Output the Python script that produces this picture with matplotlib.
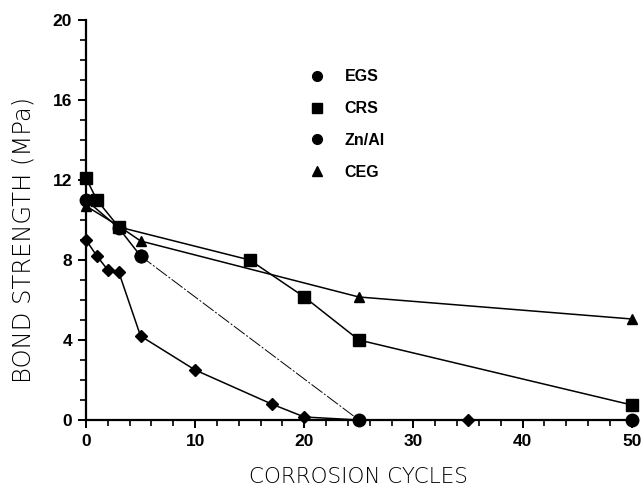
import matplotlib
matplotlib.use("Agg")
import matplotlib.pyplot as plt
from matplotlib.lines import Line2D
from matplotlib.ticker import MultipleLocator

# Data
egs_x = [0, 1, 2, 3, 5, 10, 17, 20, 25, 35, 50]
egs_y = [9.0, 8.2, 7.5, 7.4, 4.2, 2.5, 0.8, 0.15, 0.0, 0.0, 0.0]
crs_x = [0, 1, 3, 15, 20, 25, 50]
crs_y = [12.1, 11.0, 9.65, 8.0, 6.15, 4.0, 0.75]
zn_x = [0, 3, 5, 25, 50]
zn_y = [11.0, 9.6, 8.2, 0.0, 0.0]
ceg_x = [0, 3, 5, 25, 50]
ceg_y = [10.7, 9.7, 8.95, 6.15, 5.05]

series_labels = ["EGS", "CRS", "Zn/Al", "CEG"]
x_ticks = [0, 10, 20, 30, 40, 50]
y_ticks = [0, 4, 8, 12, 16, 20]

fig = plt.figure(figsize=(6.44, 4.87), dpi=100)
ax = fig.add_axes([0.1335, 0.1376, 0.8475, 0.8214])

kw = dict(color="black", lw=1.1, clip_on=False)
ax.plot(egs_x, egs_y, marker="D", ms=6, **kw)
ax.plot(crs_x, crs_y, marker="s", ms=8, **kw)
ax.plot(zn_x[:3], zn_y[:3], marker="o", ms=9, **kw)
ax.plot(zn_x[2:4], zn_y[2:4], color="black", lw=0.7, dashes=(14, 2, 2, 2))
ax.plot(zn_x[2:], zn_y[2:], marker="o", ms=9, color="black", lw=0, clip_on=False)
ax.plot(zn_x[3:], zn_y[3:], color="black", lw=1.1, clip_on=False)
ax.plot(ceg_x, ceg_y, marker="^", ms=7.5, **kw)

ax.set_xlim(0, 50)
ax.set_ylim(0, 20)
ax.set_xticks(x_ticks)
ax.set_yticks(y_ticks)
ax.xaxis.set_minor_locator(MultipleLocator(2))
ax.yaxis.set_minor_locator(MultipleLocator(1))
for s in ["top", "right"]:
    ax.spines[s].set_visible(False)
for s in ["left", "bottom"]:
    ax.spines[s].set_linewidth(1.6)
ax.tick_params(which="major", length=6, width=1.4, labelsize=12.5, pad=4)
ax.tick_params(which="minor", length=4, width=1.2)
for lab in ax.get_xticklabels() + ax.get_yticklabels():
    lab.set_fontweight("bold")
    lab.set_family("Liberation Sans")

ax.set_xlabel("CORROSION CYCLES", fontsize=15.5, family="DejaVu Sans",
              fontweight="light")
ax.xaxis.set_label_coords(0.5, -0.118)
ax.set_ylabel("BOND STRENGTH (MPa)", fontsize=17.5, family="DejaVu Sans",
              fontweight="light")
ax.yaxis.set_label_coords(-0.093, 0.45)

handles = [
    Line2D([], [], marker="o", ms=7, color="black", lw=0),
    Line2D([], [], marker="s", ms=7, color="black", lw=0),
    Line2D([], [], marker="o", ms=7, color="black", lw=0),
    Line2D([], [], marker="^", ms=7, color="black", lw=0),
]
leg = ax.legend(handles, series_labels, frameon=False, loc="upper left",
                bbox_to_anchor=(0.383, 0.9125), handlelength=1.0,
                handletextpad=1.2, labelspacing=1.05,
                prop=dict(family="Liberation Sans", weight="bold", size=11.5))

fig.savefig("out.png", dpi=100)
